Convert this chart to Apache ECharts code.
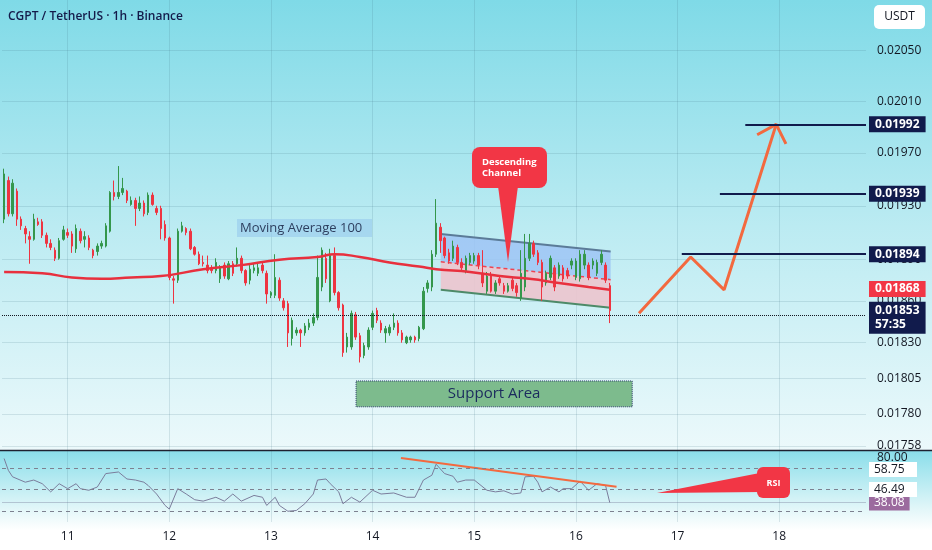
<!DOCTYPE html>
<html><head><meta charset="utf-8">
<script src="https://cdn.jsdelivr.net/npm/echarts@6/dist/echarts.min.js"></script>
<style>html,body{margin:0;padding:0;background:#fff}#c{width:932px;height:550px}</style>
</head><body><div id="c"></div>
<script>
// ---------- data ----------
const title = 'CGPT / TetherUS · 1h · Binance';
const firstDay = 10, firstHour = 9, slotCount = 204;
const priceTicks = [0.02050,0.02010,0.01970,0.01930,0.01890,0.01860,0.01830,0.01805,0.01780,0.01758];
const priceMin = 0.017553, priceMax = 0.020906;
// [open, close, low, high]
const ohlc = [
[0.01920,0.01954,0.01917,0.01958],[0.01949,0.01924,0.01922,0.01952],[0.01924,0.01947,0.01922,0.01950],[0.01941,0.01920,0.01915,0.01943],
[0.01920,0.01915,0.01912,0.01922],[0.01913,0.01909,0.01902,0.01915],[0.01907,0.01905,0.01887,0.01911],[0.01905,0.01920,0.01904,0.01924],
[0.01918,0.01916,0.01915,0.01921],[0.01918,0.01908,0.01906,0.01920],[0.01908,0.01902,0.01899,0.01910],[0.01902,0.01899,0.01897,0.01905],
[0.01897,0.01891,0.01889,0.01899],[0.01891,0.01904,0.01890,0.01906],[0.01905,0.01912,0.01904,0.01915],[0.01910,0.01908,0.01906,0.01913],
[0.01909,0.01900,0.01895,0.01911],[0.01898,0.01913,0.01895,0.01916],[0.01911,0.01904,0.01902,0.01913],[0.01905,0.01907,0.01899,0.01911],
[0.01906,0.01899,0.01897,0.01908],[0.01897,0.01893,0.01891,0.01898],[0.01896,0.01900,0.01893,0.01902],[0.01900,0.01902,0.01898,0.01904],
[0.01900,0.01915,0.01899,0.01917],[0.01911,0.01940,0.01910,0.01941],[0.01940,0.01937,0.01934,0.01949],[0.01937,0.01940,0.01935,0.01960],
[0.01940,0.01943,0.01938,0.01951],[0.01941,0.01934,0.01932,0.01942],[0.01931,0.01934,0.01930,0.01937],[0.01934,0.01928,0.01915,0.01936],
[0.01928,0.01932,0.01926,0.01937],[0.01932,0.01924,0.01922,0.01934],[0.01925,0.01938,0.01923,0.01940],[0.01938,0.01931,0.01930,0.01940],
[0.01928,0.01925,0.01923,0.01930],[0.01928,0.01913,0.01905,0.01930],[0.01916,0.01906,0.01904,0.01919],[0.01906,0.01877,0.01875,0.01907],
[0.01876,0.01875,0.01858,0.01878],[0.01875,0.01911,0.01873,0.01913],[0.01911,0.01915,0.01910,0.01918],[0.01913,0.01910,0.01908,0.01914],
[0.01911,0.01898,0.01897,0.01913],[0.01899,0.01894,0.01893,0.01900],[0.01894,0.01887,0.01886,0.01896],[0.01888,0.01887,0.01885,0.01893],
[0.01886,0.01882,0.01880,0.01893],[0.01884,0.01882,0.01880,0.01886],[0.01882,0.01888,0.01880,0.01891],[0.01876,0.01884,0.01873,0.01886],
[0.01886,0.01878,0.01876,0.01888],[0.01876,0.01887,0.01875,0.01889],[0.01887,0.01880,0.01878,0.01889],[0.01887,0.01891,0.01885,0.01899],
[0.01891,0.01882,0.01880,0.01893],[0.01882,0.01873,0.01871,0.01883],[0.01875,0.01883,0.01872,0.01886],[0.01882,0.01884,0.01880,0.01887],
[0.01880,0.01884,0.01878,0.01888],[0.01886,0.01882,0.01880,0.01888],[0.01880,0.01865,0.01858,0.01882],[0.01864,0.01866,0.01862,0.01867],
[0.01864,0.01877,0.01862,0.01894],[0.01875,0.01862,0.01860,0.01877],[0.01860,0.01855,0.01853,0.01862],[0.01858,0.01837,0.01827,0.01860],
[0.01833,0.01846,0.01828,0.01848],[0.01837,0.01839,0.01835,0.01841],[0.01839,0.01837,0.01827,0.01840],[0.01837,0.01842,0.01835,0.01844],
[0.01841,0.01844,0.01839,0.01847],[0.01844,0.01848,0.01842,0.01851],[0.01848,0.01877,0.01846,0.01893],[0.01870,0.01897,0.01867,0.01899],
[0.01891,0.01876,0.01873,0.01895],[0.01860,0.01893,0.01859,0.01898],[0.01893,0.01866,0.01864,0.01899],[0.01866,0.01855,0.01853,0.01867],
[0.01857,0.01823,0.01820,0.01858],[0.01827,0.01834,0.01823,0.01837],[0.01827,0.01851,0.01825,0.01853],[0.01850,0.01834,0.01832,0.01852],
[0.01835,0.01820,0.01816,0.01837],[0.01821,0.01828,0.01819,0.01830],[0.01827,0.01839,0.01825,0.01841],[0.01841,0.01851,0.01839,0.01853],
[0.01853,0.01846,0.01844,0.01855],[0.01844,0.01839,0.01837,0.01846],[0.01837,0.01840,0.01830,0.01842],[0.01837,0.01841,0.01835,0.01843],
[0.01841,0.01844,0.01839,0.01851],[0.01844,0.01837,0.01835,0.01846],[0.01837,0.01832,0.01830,0.01839],[0.01830,0.01834,0.01829,0.01835],
[0.01832,0.01834,0.01830,0.01835],[0.01834,0.01832,0.01830,0.01835],[0.01833,0.01841,0.01831,0.01842],[0.01840,0.01867,0.01839,0.01870],
[0.01869,0.01873,0.01866,0.01875],[0.01870,0.01894,0.01867,0.01897],[0.01894,0.01917,0.01892,0.01935],[0.01914,0.01904,0.01895,0.01917],
[0.01906,0.01893,0.01891,0.01907],[0.01895,0.01889,0.01887,0.01898],[0.01891,0.01900,0.01889,0.01904],[0.01899,0.01888,0.01886,0.01901],
[0.01888,0.01884,0.01882,0.01891],[0.01882,0.01891,0.01880,0.01893],[0.01888,0.01893,0.01886,0.01895],[0.01889,0.01893,0.01887,0.01895],
[0.01893,0.01886,0.01883,0.01895],[0.01880,0.01873,0.01870,0.01897],[0.01867,0.01878,0.01865,0.01881],[0.01878,0.01867,0.01866,0.01881],
[0.01867,0.01873,0.01865,0.01875],[0.01876,0.01873,0.01871,0.01878],[0.01871,0.01867,0.01865,0.01873],[0.01867,0.01871,0.01866,0.01873],
[0.01875,0.01869,0.01867,0.01877],[0.01871,0.01866,0.01863,0.01873],[0.01862,0.01880,0.01860,0.01897],[0.01870,0.01891,0.01867,0.01909],
[0.01891,0.01902,0.01889,0.01909],[0.01902,0.01894,0.01892,0.01904],[0.01895,0.01888,0.01886,0.01897],[0.01888,0.01870,0.01860,0.01890],
[0.01873,0.01880,0.01871,0.01882],[0.01877,0.01891,0.01875,0.01893],[0.01884,0.01870,0.01867,0.01886],[0.01878,0.01886,0.01876,0.01888],
[0.01884,0.01876,0.01874,0.01886],[0.01882,0.01878,0.01876,0.01884],[0.01886,0.01889,0.01883,0.01891],[0.01877,0.01889,0.01875,0.01891],
[0.01876,0.01894,0.01874,0.01897],[0.01886,0.01894,0.01883,0.01897],[0.01886,0.01877,0.01875,0.01888],[0.01886,0.01889,0.01883,0.01891],
[0.01880,0.01888,0.01878,0.01890],[0.01888,0.01894,0.01886,0.01897],[0.01886,0.01875,0.01873,0.01888],[0.01871,0.01853,0.01844,0.01873]
];
const maIdx = [0,9,16,23,30,37,47,56,65,74,78,84,91,98,102,110,117,124,131,138,143];
const maVal = [0.01881,0.01880,0.01877,0.01876,0.01877,0.01878,0.01883,0.01886,0.01890,0.01892,0.01894,0.01892,0.01888,0.01885,0.01883,0.01881,0.01878,0.01876,0.01873,0.01870,0.01868];
const rsiIdx = [0,1,2,5,7,9,11,13,15,17,18,20,22,24,27,29,31,33,34,36,38,39,41,43,45,47,50,52,54,56,59,61,62,64,65,67,69,71,73,74,76,77,79,80,82,84,87,89,92,95,97,99,101,102,104,106,107,109,111,114,116,118,120,122,123,125,126,127,129,131,132,134,136,138,140,142,143];
const rsiVal = [79,68,62,57,59,55.6,48,55.6,51,55.6,51,49.5,52.5,65,66.5,60,59,57,54,46,35.4,32,51,46,40.7,39.4,43,39.4,46,39.4,44.7,43,35.4,43,35.4,30,30.7,37,46,59,60,55.6,48,37,43,38.5,49.5,46,47,43,43,59,63.5,73.7,65,62.5,57,59,59,49.5,48,49,46,47,62,62.5,57,48,52.5,48,51,51,58,49.5,55.6,54,38.08];
const lastPrice = 0.01853, countdown = '57:35', maLast = 0.01868;
const targetLevels = [0.01992,0.01939,0.01894];
const targetStart = [175,169,160];
const channelIdx = [103.1,143.2], channelTop = [0.01909,0.01896], channelBottom = [0.01868,0.01855];
const projIdx = [149.9,162.1,170.0,182.3], projVal = [0.01851,0.01892,0.01868,0.01992];
const barbIdx = [177.8,182.3,184.6], barbVal = [0.01984,0.01992,0.01977];
const supportIdx = [83.1,148.3], supportVal = [0.01803,0.01785];
const rsiLevels = [70,50,30], rsiLast = 38.08, rsiTagTexts = ['58.75','46.49'];
const rsiTrendIdx = [93.7,144.6], rsiTrendVal = [79.5,52.8];

// ---------- build ----------
const L = Math.log;
const cats = [], dayIdx = [];
for (let i = 0; i < slotCount; i++) {
  const h = firstHour + i, d = firstDay + Math.floor(h / 24), hh = h % 24;
  if (hh === 0) dayIdx.push(i);
  cats.push(d + ' ' + String(hh).padStart(2, '0') + ':00');
}
const FONT = '"Open Sans","Noto Sans",sans-serif';
const UP = '#34974c', DN = '#ee3441', NAVY = '#111b4c', ORANGE = '#f3693f', GRIDC = 'rgba(60,110,130,0.16)';
const tickL = priceTicks.map(L);
const tag = (bg, extra) => Object.assign({show:true, position:'end', distance:3, backgroundColor:bg, color:'#fff', fontSize:12, fontWeight:'bold', fontFamily:FONT, lineHeight:14, padding:[1,6], align:'left'}, extra || {});

const chart = echarts.init(document.getElementById('c'), null, {renderer:'canvas', width:932, height:550});
const option = {
  animation:false,
  textStyle:{fontFamily:FONT},
  grid:[{left:2,right:66,top:0,height:450},{left:2,right:66,top:451,height:71}],
  xAxis:[
    {type:'category',gridIndex:0,data:cats,boundaryGap:true,show:false},
    {type:'value',gridIndex:0,position:'top',min:-0.5,max:slotCount-0.5,axisLine:{show:false},axisTick:{show:false,customValues:dayIdx},axisLabel:{show:false},splitLine:{show:true,lineStyle:{color:GRIDC}}},
    {type:'category',gridIndex:1,data:cats,boundaryGap:true,axisLine:{show:false},axisTick:{show:false},
     axisLabel:{interval:(i)=>dayIdx.indexOf(i)>=0,formatter:v=>v.split(' ')[0],color:'#131722',fontSize:12,margin:9},splitLine:{show:false}},
    {type:'value',gridIndex:1,position:'top',min:-0.5,max:slotCount-0.5,axisLine:{show:false},axisTick:{show:false,customValues:dayIdx},axisLabel:{show:false},splitLine:{show:true,lineStyle:{color:GRIDC}}}
  ],
  yAxis:[
    {type:'value',gridIndex:0,position:'right',min:L(priceMin),max:L(priceMax),axisLine:{show:false},
     axisTick:{show:false,customValues:tickL},
     axisLabel:{customValues:tickL,formatter:v=>Math.exp(v).toFixed(5),color:'#131722',fontSize:12,margin:11},
     splitLine:{show:true,lineStyle:{color:GRIDC}}},
    {type:'value',gridIndex:1,position:'right',min:20,max:86,axisLine:{show:false},
     axisTick:{show:false,customValues:[80]},
     axisLabel:{customValues:[80],formatter:v=>v.toFixed(2),color:'#131722',fontSize:12,margin:11},
     splitLine:{show:false}}
  ],
  series:[
    {type:'custom',xAxisIndex:1,yAxisIndex:0,z:1,silent:true,data:[[0]],
     renderItem:(params,api)=>{
       const tl=api.coord([channelIdx[0],L(channelTop[0])]), tr=api.coord([channelIdx[1],L(channelTop[1])]);
       const bl=api.coord([channelIdx[0],L(channelBottom[0])]), br=api.coord([channelIdx[1],L(channelBottom[1])]);
       const ml=[(tl[0]+bl[0])/2,(tl[1]+bl[1])/2], mr=[(tr[0]+br[0])/2,(tr[1]+br[1])/2];
       return {type:'group',children:[
         {type:'polygon',shape:{points:[tl,tr,mr,ml]},style:{fill:'rgba(158,196,245,0.85)'}},
         {type:'polygon',shape:{points:[ml,mr,br,bl]},style:{fill:'rgba(236,196,206,0.9)'}},
         {type:'line',shape:{x1:tl[0],y1:tl[1],x2:tr[0],y2:tr[1]},style:{stroke:'#5b7b98',lineWidth:2}},
         {type:'line',shape:{x1:bl[0],y1:bl[1],x2:br[0],y2:br[1]},style:{stroke:'#4d8a68',lineWidth:2}},
         {type:'line',shape:{x1:ml[0],y1:ml[1],x2:mr[0],y2:mr[1]},style:{stroke:'#ee4453',lineWidth:1.5,lineDash:[4,3]}}
       ]};
     }},
    {type:'candlestick',xAxisIndex:0,yAxisIndex:0,z:3,barWidth:2,
     data:ohlc.map(r=>r.map(L)),
     itemStyle:{color:UP,color0:DN,borderColor:UP,borderColor0:DN,borderWidth:1},
     markLine:{silent:true,symbol:['none','none'],animation:false,
       data:[{yAxis:L(lastPrice)}],
       lineStyle:{color:'#131722',type:'dotted',width:1},
       label:tag(NAVY,{formatter:lastPrice.toFixed(5)+'\n'+countdown,offset:[0,3],padding:[2,6]})}},
    {type:'line',xAxisIndex:1,yAxisIndex:0,z:4,smooth:0.5,symbol:'none',
     data:maIdx.map((x,k)=>[x,L(maVal[k])]),lineStyle:{color:'#e8303e',width:2.5},
     markLine:{silent:true,symbol:['none','none'],animation:false,
       data:[{yAxis:L(maLast),lineStyle:{color:'rgba(0,0,0,0)',width:1},label:tag('#f23645',{formatter:maLast.toFixed(5)})}]}},
    {type:'line',xAxisIndex:1,yAxisIndex:0,z:4,symbol:'none',
     data:projIdx.map((x,k)=>[x,L(projVal[k])]),lineStyle:{color:ORANGE,width:3},
     markLine:{silent:true,symbol:['none','none'],animation:false,
       lineStyle:{color:NAVY,width:2,type:'solid'},
       label:tag(NAVY,{formatter:p=>p.name}),
       data:targetLevels.map((v,k)=>[{name:v.toFixed(5),coord:[targetStart[k],L(v)]},{coord:[slotCount-0.5,L(v)]}])},
     markArea:{silent:true,
       itemStyle:{color:'#7dbb8d',borderColor:'#2b3a6a',borderWidth:1,borderType:'dotted'},
       label:{show:true,position:'inside',formatter:'Support Area',color:'#1b2a5e',fontSize:15,fontFamily:FONT},
       data:[[{coord:[supportIdx[0],L(supportVal[0])]},{coord:[supportIdx[1],L(supportVal[1])]}]]}},
    {type:'line',xAxisIndex:1,yAxisIndex:0,z:4,symbol:'none',
     data:barbIdx.map((x,k)=>[x,L(barbVal[k])]),lineStyle:{color:ORANGE,width:3}},
    {type:'line',xAxisIndex:3,yAxisIndex:1,z:3,symbol:'none',
     data:rsiIdx.map((x,k)=>[x,rsiVal[k]]),lineStyle:{color:'#7b7d9c',width:1},
     markLine:{silent:true,symbol:['none','none'],animation:false,
       data:[...rsiLevels.map(v=>({yAxis:v,lineStyle:{color:'#7d8190',type:[4,4],width:1},label:{show:false}})),
             {yAxis:rsiLast,lineStyle:{color:'rgba(110,110,140,0.35)',width:1,type:'solid'},
              label:tag('#9b6a9e',{formatter:rsiLast.toFixed(2),fontWeight:'normal',padding:[1,5]})}]}},
    {type:'line',xAxisIndex:3,yAxisIndex:1,z:4,symbol:'none',
     data:rsiTrendIdx.map((x,k)=>[x,rsiTrendVal[k]]),lineStyle:{color:ORANGE,width:2}}
  ],
  graphic:[
    {type:'rect',z:-100,silent:true,shape:{x:0,y:0,width:932,height:451},
     style:{fill:new echarts.graphic.LinearGradient(0,0,0,1,[{offset:0,color:'#7fdae7'},{offset:0.5,color:'#bbebf2'},{offset:1,color:'#ecf9fb'}])}},
    {type:'rect',z:-100,silent:true,shape:{x:0,y:451,width:932,height:99},
     style:{fill:new echarts.graphic.LinearGradient(0,0,0,1,[{offset:0,color:'#8adeea'},{offset:0.6,color:'#e4f7f9'},{offset:0.8,color:'#ffffff'},{offset:1,color:'#ffffff'}])}},
    {type:'line',z:60,silent:true,shape:{x1:0,y1:450.5,x2:932,y2:450.5},style:{stroke:'#1e2230',lineWidth:1.5}},
    {type:'text',z:60,silent:true,style:{text:title,x:8,y:17,font:'600 12px '+FONT,fill:'#141b4a',textVerticalAlign:'middle',verticalAlign:'middle'}},
    {type:'rect',z:60,silent:true,shape:{x:874,y:5,width:51,height:24,r:5},style:{fill:'#ffffff'}},
    {type:'text',z:61,silent:true,style:{text:'USDT',x:899.5,y:17,font:'12px '+FONT,fill:'#131722',textAlign:'center',align:'center',textVerticalAlign:'middle',verticalAlign:'middle'}},
    {type:'rect',z:60,silent:true,shape:{x:237,y:219,width:135,height:18},style:{fill:'rgba(150,202,236,0.6)'}},
    {type:'text',z:61,silent:true,style:{text:'Moving Average 100',x:240,y:228,font:'13px '+FONT,fill:'#2d3e5e',textVerticalAlign:'middle',verticalAlign:'middle'}},
    {type:'polygon',z:60,silent:true,shape:{points:[[498,186],[518,186],[508,262]]},style:{fill:'#f23645'}},
    {type:'rect',z:60,silent:true,shape:{x:472,y:147,width:75,height:41,r:8},style:{fill:'#f23645'}},
    {type:'text',z:61,silent:true,style:{text:'Descending\nChannel',x:482,y:157,font:'bold 9.5px '+FONT,fill:'#ffffff',lineHeight:11,textVerticalAlign:'top',verticalAlign:'top'}},
    {type:'polygon',z:60,silent:true,shape:{points:[[657,493],[770,471],[762,492]]},style:{fill:'#f23645'}},
    {type:'rect',z:60,silent:true,shape:{x:757,y:467,width:33,height:31,r:6},style:{fill:'#f23645'}},
    {type:'text',z:61,silent:true,style:{text:'RSI',x:773.5,y:483,font:'bold 9px '+FONT,fill:'#ffffff',textAlign:'center',align:'center',textVerticalAlign:'middle',verticalAlign:'middle'}},
    {type:'rect',z:60,silent:true,shape:{x:869,y:462,width:48,height:15},style:{fill:'#ffffff'}},
    {type:'text',z:61,silent:true,style:{text:rsiTagTexts[0],x:874,y:469.5,font:'12px '+FONT,fill:'#131722',textVerticalAlign:'middle',verticalAlign:'middle'}},
    {type:'rect',z:60,silent:true,shape:{x:869,y:482,width:48,height:15},style:{fill:'#ffffff'}},
    {type:'text',z:61,silent:true,style:{text:rsiTagTexts[1],x:874,y:489.5,font:'12px '+FONT,fill:'#131722',textVerticalAlign:'middle',verticalAlign:'middle'}}
  ]
};
chart.setOption(option);
</script>
</body></html>
